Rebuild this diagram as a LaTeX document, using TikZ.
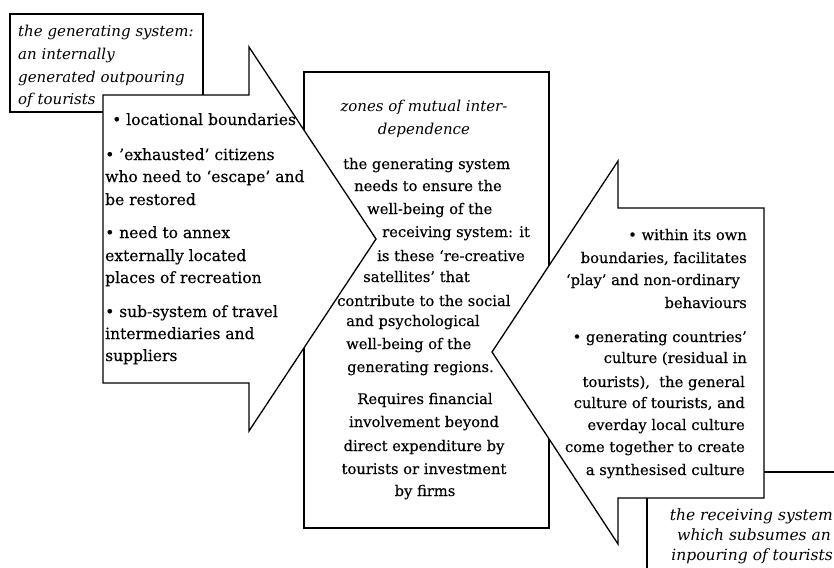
\documentclass[tikz,border=0pt]{standalone}
\usepackage{fontspec}
\setmainfont{DejaVu Serif}[UprightFeatures={FakeBold=0.35}]
\begin{document}
\begin{tikzpicture}[x=1pt,y=-1pt,
  shp/.style={draw=black,fill=white,line width=1.3pt,line join=miter},
  txt/.style={font=\fontsize{15.5}{22}\selectfont,inner sep=0pt},
  txs/.style={font=\fontsize{14.7}{22}\selectfont,inner sep=0pt},
  itx/.style={font=\fontsize{15}{22}\selectfont\itshape,inner sep=0pt},
  lw/.style={txt,anchor=base west},
  sw/.style={txs,anchor=base west},
  se/.style={txs,anchor=base east},
  sc/.style={txs,anchor=base},
  iw/.style={itx,anchor=base west},
  ie/.style={itx,anchor=base east},
  ic/.style={itx,anchor=base}]
\useasboundingbox (0,0) rectangle (834,567);
% boxes behind
\draw[shp] (10,14) rectangle (203,112);
\draw[shp] (304,72) rectangle (549,528);
\draw[shp] (647,472) rectangle (860,600);
% arrows
\draw[shp] (103,95) -- (249,95) -- (249,47) -- (376,239) -- (249,431) -- (249,383) -- (103,383) -- cycle;
\draw[shp] (492,352) -- (618,161) -- (618,208) -- (764,208) -- (764,498) -- (618,498) -- (618,544) -- cycle;
% top-left italic
\node[iw] (t1) at (18,37) {the generating system:};
\node[iw] (t2) at (18,60) {an internally};
\node[iw] (t3) at (18,83) {generated outpouring};
\node[iw] (t4) at (18,105) {of tourists};
% left arrow text
\node[lw] (l1) at (112,125) {• locational boundaries};
\node[lw] (l2) at (105,160) {• ’exhausted’ citizens};
\node[lw] (l3) at (105,182) {who need to ‘escape’ and};
\node[lw] (l4) at (105,205) {be restored};
\node[lw] (l5) at (105,238) {• need to annex};
\node[lw] (l6) at (105,261) {externally located};
\node[lw] (l7) at (105,283) {places of recreation};
\node[lw] (l8) at (105,317) {• sub-system of travel};
\node[lw] (l9) at (105,339) {intermediaries and};
\node[lw] (l10) at (105,361) {suppliers};
% middle text
\node[ic] (m1) at (424,112) {zones of mutual inter-};
\node[ic] (m2) at (424,134) {dependence};
\node[sw] (m3) at (343,169) {the generating system};
\node[sw] (m4) at (354,191) {needs to ensure the};
\node[sw] (m5) at (367,214) {well-being of the};
\node[sw] (m6) at (382,237) {receiving system: it};
\node[sw] (m7) at (377,261) {is these ‘re-creative};
\node[sw] (m8) at (363,282) {satellites’ that};
\node[sw] (m9) at (337,306) {contribute to the social};
\node[sw] (m10) at (346,326) {and psychological};
\node[sw] (m11) at (346,349) {well-being of the};
\node[sw] (m12) at (347,372) {generating regions.};
\node[sc] (m13) at (425,404) {Requires financial};
\node[sc] (m14) at (424,427) {involvement beyond};
\node[sc] (m15) at (424,451) {direct expenditure by};
\node[sc] (m16) at (424,474) {tourists or investment};
\node[sc] (m17) at (425,496) {by firms};
% right arrow text
\node[se] (r1) at (747,240) {• within its own};
\node[se] (r2) at (747,263) {boundaries, facilitates};
\node[se] (r3) at (740,285) {‘play’ and non-ordinary};
\node[se] (r4) at (747,308) {behaviours};
\node[se] (r5) at (747,342) {• generating countries’};
\node[se] (r6) at (747,363) {culture (residual in};
\node[se] (r7) at (745,387) {tourists), \ the general};
\node[se] (r8) at (745,408) {culture of tourists, and};
\node[se] (r9) at (745,430) {everday local culture};
\node[se] (r10) at (745,452) {come together to create};
\node[se] (r11) at (745,475) {a synthesised culture};
% bottom-right italic
\node[ie,font=\fontsize{15.5}{20}\selectfont\itshape] (b1) at (833,520) {the receiving system};
\node[ie,font=\fontsize{15.5}{20}\selectfont\itshape] (b2) at (831,540) {which subsumes an};
\node[ie,font=\fontsize{15.5}{20}\selectfont\itshape] (b3) at (833,560) {inpouring of tourists};
\end{tikzpicture}
\end{document}
